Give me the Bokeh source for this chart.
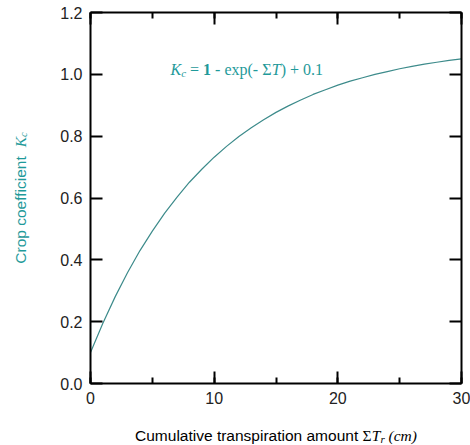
from bokeh.plotting import figure
from bokeh.models import (LinearAxis, SingleIntervalTicker, FixedTicker, Range1d, Label,
                          NumeralTickFormatter)
from bokeh.embed import file_html
from bokeh.resources import INLINE
import math

# cumulative transpiration (cm) and crop coefficient along the curve
sum_tr = [0, 1, 2, 3, 4, 5, 6, 7, 8, 9, 10, 11, 12, 13, 14, 15,
          16, 17, 18, 19, 20, 21, 22, 23, 24, 25, 26, 27, 28, 29, 30]
kc = [0.100, 0.195, 0.281, 0.359, 0.430, 0.493, 0.551, 0.603, 0.651, 0.693,
      0.732, 0.767, 0.799, 0.827, 0.853, 0.877, 0.898, 0.917, 0.935, 0.950,
      0.965, 0.978, 0.989, 1.000, 1.009, 1.018, 1.026, 1.033, 1.039, 1.045,
      1.050]
x_lim = (0, 30)
y_lim = (0.0, 1.2)
y_ticks = [0.0, 0.2, 0.4, 0.6, 0.8, 1.0, 1.2]

TEAL = "#1f9a9a"
CURVE = "#3d8b8b"
SANS = "Liberation Sans"
SERIF = "Liberation Serif"

# canvas and the margins around the boxed plot area (pixels)
W, H = 470, 445
ML, MR, MT, MB = 90, 9, 12, 62
kx = (W - ML - MR) / (x_lim[1] - x_lim[0])
ky = (H - MT - MB) / (y_lim[1] - y_lim[0])


def dx(px):
    return x_lim[0] + (px - ML) / kx


def dy(py):
    return y_lim[0] + (H - MB - py) / ky


# the frame fills the canvas; the axes sit at fixed data positions around the box
p = figure(width=W, height=H, output_backend="svg", toolbar_location=None,
           x_range=Range1d(dx(0), dx(W)), y_range=Range1d(dy(H), dy(0)),
           min_border=0, x_axis_location=None, y_axis_location=None)
p.xgrid.visible = False
p.ygrid.visible = False
p.outline_line_color = None
p.background_fill_color = "white"
p.border_fill_color = "white"


def style_axis(ax, show_labels):
    ax.axis_line_width = 2
    ax.axis_line_color = "black"
    ax.major_tick_in = 12
    ax.major_tick_out = 0
    ax.major_tick_line_width = 2
    ax.minor_tick_in = 6
    ax.minor_tick_out = 0
    ax.minor_tick_line_width = 2
    ax.major_label_text_font = SANS
    ax.major_label_text_font_size = "16px"
    if show_labels:
        ax.major_label_text_color = "#222222"
        ax.major_label_standoff = 8
    else:
        ax.major_label_text_color = None
        ax.major_label_standoff = 0


for loc, at, labels in (("below", y_lim[0], True), ("above", y_lim[1], False)):
    ax = LinearAxis(ticker=SingleIntervalTicker(interval=10, num_minor_ticks=2),
                    formatter=NumeralTickFormatter(format="0"),
                    fixed_location=at, bounds=x_lim)
    style_axis(ax, labels)
    p.add_layout(ax, loc)

for loc, at, labels in (("left", x_lim[0], True), ("right", x_lim[1], False)):
    ax = LinearAxis(ticker=FixedTicker(ticks=y_ticks),
                    formatter=NumeralTickFormatter(format="0.0"),
                    fixed_location=at, bounds=y_lim)
    style_axis(ax, labels)
    ax.minor_tick_line_color = None
    p.add_layout(ax, loc)

p.line(sum_tr, kc, line_color=CURVE, line_width=1.2)

# approximate advance widths (per 1000 em) used to set mixed-font text side by side
ADV = {
    (SANS, "normal"): {"C": 722, "u": 556, "m": 833, "l": 222, "a": 556, "t": 278,
                       "i": 222, "v": 500, "e": 556, " ": 278, "r": 333, "n": 556,
                       "s": 500, "p": 556, "o": 556, "f": 278, "c": 500},
    (SERIF, "normal"): {" ": 250, "=": 564, "-": 333, "e": 444, "x": 500, "p": 500,
                        "(": 333, ")": 333, "+": 564, "0": 500, ".": 250,
                        "\u03a3": 600},
    (SERIF, "bold"): {"1": 500},
    (SERIF, "italic"): {"K": 667, "c": 444, "T": 556, "r": 389, " ": 250, "(": 333,
                        ")": 333, "m": 722},
}


def width(text, font, style, size):
    table = ADV[(font, style)]
    return sum(table.get(ch, 500) for ch in text) * size / 1000.0


def run_of_text(pieces, start, base, color, vertical=False):
    """Place pieces (text, font, style, size, shift) one after another.
    Horizontal runs go right from x=start on baseline y=base; vertical runs
    go up from y=start on baseline x=base. Edge spaces become gaps, since
    the SVG text drops them."""
    pos = start
    for text, font, style, size, shift in pieces:
        lead = len(text) - len(text.lstrip(" "))
        core = text.strip(" ")
        lead_w = width(" " * lead, font, style, size)
        at = pos - lead_w if vertical else pos + lead_w
        if vertical:
            x, y, ang = dx(base + shift), dy(at), math.pi / 2
        else:
            x, y, ang = dx(at), dy(base + shift), 0.0
        p.add_layout(Label(x=x, y=y, angle=ang, text=core, text_font=font,
                           text_font_style=style, text_font_size=f"{size}px",
                           text_color=color, text_baseline="alphabetic",
                           text_align="left"))
        adv = width(text, font, style, size)
        pos = pos - adv if vertical else pos + adv


def run_length(pieces):
    return sum(width(t, f, s, z) for t, f, s, z, _ in pieces)


# fitted relation written inside the plot
equation = [
    ("K", SERIF, "italic", 16, 0),
    ("c", SERIF, "italic", 11, 3),
    (" = ", SERIF, "normal", 16, 0),
    ("1", SERIF, "bold", 16, 0),
    (" - exp(- \u03a3", SERIF, "normal", 16, 0),
    ("T", SERIF, "italic", 16, 0),
    (") + 0.1", SERIF, "normal", 16, 0),
]
run_of_text(equation, 170, 69, TEAL)

# x-axis title, centred under the box
x_title = [
    ("Cumulative transpiration amount ", SANS, "normal", 15.5, 0),
    ("\u03a3", SERIF, "normal", 15.5, 0),
    ("T", SERIF, "italic", 15.5, 0),
    ("r", SERIF, "italic", 11, 3),
    (" (cm)", SERIF, "italic", 15.5, 0),
]
x_mid = ML + (W - ML - MR) / 2
run_of_text(x_title, x_mid - run_length(x_title) / 2, 435, "black")

# y-axis title, reading upward and centred beside the box
y_title = [
    ("Crop coefficient  ", SANS, "normal", 15.5, 0),
    ("K", SERIF, "italic", 15.5, 0),
    ("c", SERIF, "italic", 10.5, 3),
]
y_mid = MT + (H - MT - MB) / 2
run_of_text(y_title, y_mid + run_length(y_title) / 2, 20, TEAL, vertical=True)

open("out.html", "w").write(file_html(p, INLINE))
